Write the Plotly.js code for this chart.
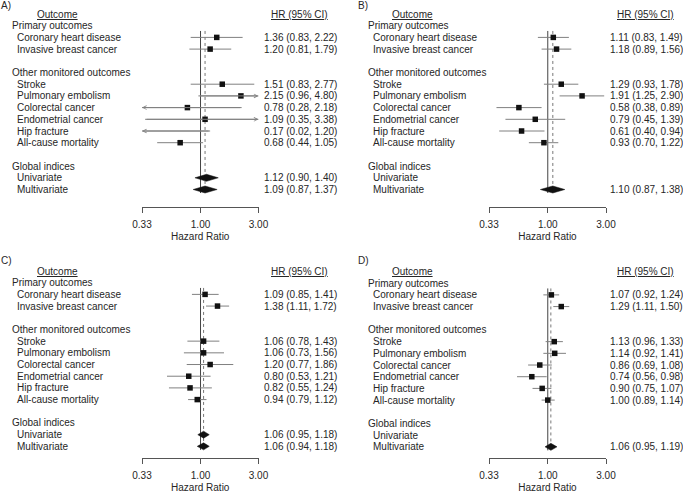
<!DOCTYPE html>
<html>
<head>
<meta charset="utf-8">
<script src="https://cdn.plot.ly/plotly-3.0.1.min.js"></script>
<style>html,body{margin:0;padding:0;background:#fff;}#chart{width:683px;height:496px;}</style>
</head>
<body>
<div id="chart"></div>
<script>
// ---------------- DATA ----------------
const panelLetters = ['A)', 'B)', 'C)', 'D)'];
const groupNames = ['Primary outcomes', 'Other monitored outcomes', 'Global indices'];
const primaryOutcomes = ['Coronary heart disease', 'Invasive breast cancer'];
const otherOutcomes = ['Stroke', 'Pulmonary embolism', 'Colorectal cancer', 'Endometrial cancer', 'Hip fracture', 'All-cause mortality'];
const globalIndices = ['Univariate', 'Multivariate'];
const headerOutcome = 'Outcome';
const headerHR = 'HR (95% CI)';
const axisTitle = 'Hazard Ratio';
const tickValues = [0.33, 1.00, 3.00];
const tickLabels = ['0.33', '1.00', '3.00'];

// outcomes order: primary then other monitored
const hrA = [1.36, 1.20, 1.51, 2.15, 0.78, 1.09, 0.17, 0.68];
const loA = [0.83, 0.81, 0.83, 0.96, 0.28, 0.35, 0.02, 0.44];
const hiA = [2.22, 1.79, 2.77, 4.80, 2.18, 3.38, 1.20, 1.05];
const globalHrA = [1.12, 1.09];
const globalLoA = [0.90, 0.87];
const globalHiA = [1.40, 1.37];

const hrB = [1.11, 1.18, 1.29, 1.91, 0.58, 0.79, 0.61, 0.93];
const loB = [0.83, 0.89, 0.93, 1.25, 0.38, 0.45, 0.40, 0.70];
const hiB = [1.49, 1.56, 1.78, 2.90, 0.89, 1.39, 0.94, 1.22];
const globalHrB = [null, 1.10];
const globalLoB = [null, 0.87];
const globalHiB = [null, 1.38];

const hrC = [1.09, 1.38, 1.06, 1.06, 1.20, 0.80, 0.82, 0.94];
const loC = [0.85, 1.11, 0.78, 0.73, 0.77, 0.53, 0.55, 0.79];
const hiC = [1.41, 1.72, 1.43, 1.56, 1.86, 1.21, 1.24, 1.12];
const globalHrC = [1.06, 1.06];
const globalLoC = [0.95, 0.94];
const globalHiC = [1.18, 1.18];

const hrD = [1.07, 1.29, 1.13, 1.14, 0.86, 0.74, 0.90, 1.00];
const loD = [0.92, 1.11, 0.96, 0.92, 0.69, 0.56, 0.75, 0.89];
const hiD = [1.24, 1.50, 1.33, 1.41, 1.08, 0.98, 1.07, 1.14];
const globalHrD = [null, 1.06];
const globalLoD = [null, 0.95];
const globalHiD = [null, 1.19];

// ---------------- STYLE / GEOMETRY ----------------
const W = 683, H = 496;
const FONT = 'Liberation Sans, Arial, Helvetica, sans-serif';
const TXT = '#262626';
const CI_COLOR = '#808080';
const REF_COLOR = '#444';
const DOT_COLOR = '#777';
const AXIS_COLOR = '#555';
const LOW = tickValues[0], HIGH = tickValues[2];

const geo = [
  {ax0: 142, ax1: 258.5, letterX: 0, letterY: 5, secX: 11, itemX: 16, outCX: 57.5, hrCX: 299, valX: 263, row0: 14, sp: 11.7, axisPx: 207, topPx: 0},
  {ax0: 489, ax1: 606, letterX: 357, letterY: 5, secX: 367, itemX: 372, outCX: 412.7, hrCX: 645, valX: 609, row0: 14, sp: 11.7, axisPx: 207, topPx: 0},
  {ax0: 142, ax1: 258.5, letterX: 0, letterY: 260, secX: 11, itemX: 16, outCX: 57, hrCX: 299, valX: 263, row0: 271, sp: 11.69, axisPx: 458, topPx: 250},
  {ax0: 489, ax1: 606, letterX: 357, letterY: 261, secX: 367, itemX: 372, outCX: 412.7, hrCX: 645, valX: 609, row0: 271.5, sp: 11.69, axisPx: 458, topPx: 250}
];

const panels = [
  {hr: hrA, lo: loA, hi: hiA, ghr: globalHrA, glo: globalLoA, ghi: globalHiA},
  {hr: hrB, lo: loB, hi: hiB, ghr: globalHrB, glo: globalLoB, ghi: globalHiB},
  {hr: hrC, lo: loC, hi: hiC, ghr: globalHrC, glo: globalLoC, ghi: globalHiC},
  {hr: hrD, lo: loD, hi: hiD, ghr: globalHrD, glo: globalLoD, ghi: globalHiD}
];

// build row structure
const groups = [
  {name: groupNames[0], items: primaryOutcomes, kind: 'outcome', offset: 0},
  {name: groupNames[1], items: otherOutcomes, kind: 'outcome', offset: primaryOutcomes.length},
  {name: groupNames[2], items: globalIndices, kind: 'global', offset: 0}
];
const rowList = [];
let rr = 1;
groups.forEach(g => {
  rowList.push({type: 'section', text: g.name, row: rr}); rr++;
  g.items.forEach((it, k) => { rowList.push({type: g.kind, text: it, idx: g.offset + k, row: rr}); rr++; });
  rr++;
});
const itemRows = rowList.filter(d => d.type !== 'section').map(d => d.row);
const firstItemRow = Math.min(...itemRows), lastItemRow = Math.max(...itemRows);
const vTop = firstItemRow - 0.55, vBot = lastItemRow + 0.3;
const DIAMOND_H = 0.3;

const fmt = (h, l, u) => h.toFixed(2) + ' (' + l.toFixed(2) + ', ' + u.toFixed(2) + ')';

const traces = [];
const annotations = [];
const layout = {
  width: W, height: H,
  margin: {l: 0, r: 0, t: 0, b: 0, pad: 0},
  paper_bgcolor: '#fff', plot_bgcolor: 'rgba(0,0,0,0)',
  showlegend: false,
  font: {family: FONT, size: 10, color: TXT}
};

panels.forEach((p, i) => {
  const g = geo[i];
  const s = i === 0 ? '' : String(i + 1);
  const xr = 'x' + s, yr = 'y' + s;
  const yDomain = [(H - g.axisPx) / H, (H - g.topPx) / H];
  const yRange = [(g.axisPx - g.row0) / g.sp, (g.topPx - g.row0) / g.sp];
  layout['xaxis' + s] = {
    domain: [g.ax0 / W, g.ax1 / W], anchor: yr, type: 'log',
    range: [Math.log10(LOW), Math.log10(HIGH)], autorange: false,
    tickmode: 'array', tickvals: tickValues, ticktext: tickLabels,
    ticks: 'outside', ticklen: 5, tickwidth: 1, tickcolor: AXIS_COLOR,
    showline: true, linecolor: AXIS_COLOR, linewidth: 1,
    showgrid: false, zeroline: false, fixedrange: true,
    tickfont: {family: FONT, size: 10, color: TXT},
    ticklabelstandoff: 3,
    title: {text: axisTitle, font: {family: FONT, size: 10, color: TXT}, standoff: 3}
  };
  layout['yaxis' + s] = {
    domain: yDomain, anchor: xr, range: yRange, autorange: false,
    visible: false, showgrid: false, zeroline: false, fixedrange: true
  };

  // reference line at HR = 1 and dotted line at multivariate global HR
  traces.push({type: 'scatter', mode: 'lines', xaxis: xr, yaxis: yr, x: [1, 1], y: [vTop, vBot],
    line: {color: REF_COLOR, width: 1}, hoverinfo: 'skip'});
  const mv = p.ghr[p.ghr.length - 1];
  traces.push({type: 'scatter', mode: 'lines', xaxis: xr, yaxis: yr, x: [mv, mv], y: [vTop, vBot],
    line: {color: DOT_COLOR, width: 1, dash: 'dot'}, hoverinfo: 'skip'});

  const ciX = [], ciY = [], sqX = [], sqY = [];
  rowList.forEach(d => {
    if (d.type === 'section') {
      annotations.push({xref: 'paper', yref: yr, x: g.secX / W, y: d.row, xanchor: 'left', yanchor: 'middle',
        text: d.text, showarrow: false, font: {family: FONT, size: 10, color: TXT}, borderpad: 0});
      return;
    }
    annotations.push({xref: 'paper', yref: yr, x: g.itemX / W, y: d.row, xanchor: 'left', yanchor: 'middle',
      text: d.text, showarrow: false, font: {family: FONT, size: 10, color: TXT}, borderpad: 0});
    let h, l, u;
    if (d.type === 'outcome') { h = p.hr[d.idx]; l = p.lo[d.idx]; u = p.hi[d.idx]; }
    else { h = p.ghr[d.idx]; l = p.glo[d.idx]; u = p.ghi[d.idx]; }
    if (h === null || h === undefined) return;
    annotations.push({xref: 'paper', yref: yr, x: g.valX / W, y: d.row, xanchor: 'left', yanchor: 'middle',
      text: fmt(h, l, u), showarrow: false, font: {family: FONT, size: 10, color: TXT}, borderpad: 0});
    if (d.type === 'outcome') {
      const lc = Math.max(l, LOW), uc = Math.min(u, HIGH);
      ciX.push(lc, uc, null); ciY.push(d.row, d.row, null);
      sqX.push(h); sqY.push(d.row);
      const arrowBase = {xref: xr, yref: yr, axref: xr, ayref: yr, text: '', showarrow: true,
        arrowhead: 5, arrowsize: 0.75, arrowwidth: 1, arrowcolor: CI_COLOR, standoff: 0, startstandoff: 0};
      if (l < LOW) annotations.push(Object.assign({}, arrowBase, {x: Math.log10(LOW), y: d.row, ax: Math.log10(uc), ay: d.row}));
      if (u > HIGH) annotations.push(Object.assign({}, arrowBase, {x: Math.log10(HIGH), y: d.row, ax: Math.log10(lc), ay: d.row}));
    } else {
      traces.push({type: 'scatter', mode: 'lines', xaxis: xr, yaxis: yr,
        x: [l, h, u, h, l], y: [d.row, d.row - DIAMOND_H, d.row, d.row + DIAMOND_H, d.row],
        fill: 'toself', fillcolor: '#111', line: {color: '#111', width: 0.5}, hoverinfo: 'skip'});
    }
  });
  traces.push({type: 'scatter', mode: 'lines', xaxis: xr, yaxis: yr, x: ciX, y: ciY,
    line: {color: CI_COLOR, width: 1}, connectgaps: false, hoverinfo: 'skip'});
  traces.push({type: 'scatter', mode: 'markers', xaxis: xr, yaxis: yr, x: sqX, y: sqY,
    marker: {symbol: 'square', size: 5.5, color: '#111', line: {width: 0}}, hoverinfo: 'skip'});

  // headers and panel letter
  annotations.push({xref: 'paper', yref: yr, x: g.outCX / W, y: 0, xanchor: 'center', yanchor: 'middle',
    text: '<u>' + headerOutcome + '</u>', showarrow: false, font: {family: FONT, size: 10, color: TXT}, borderpad: 0});
  annotations.push({xref: 'paper', yref: yr, x: g.hrCX / W, y: 0, xanchor: 'center', yanchor: 'middle',
    text: '<u>' + headerHR + '</u>', showarrow: false, font: {family: FONT, size: 10, color: TXT}, borderpad: 0});
  annotations.push({xref: 'paper', yref: 'paper', x: g.letterX / W, y: (H - g.letterY) / H, xanchor: 'left', yanchor: 'middle',
    text: panelLetters[i], showarrow: false, font: {family: FONT, size: 10, color: TXT}, borderpad: 0});
});

layout.annotations = annotations;
Plotly.newPlot('chart', traces, layout, {staticPlot: true, displayModeBar: false});
</script>
</body>
</html>
